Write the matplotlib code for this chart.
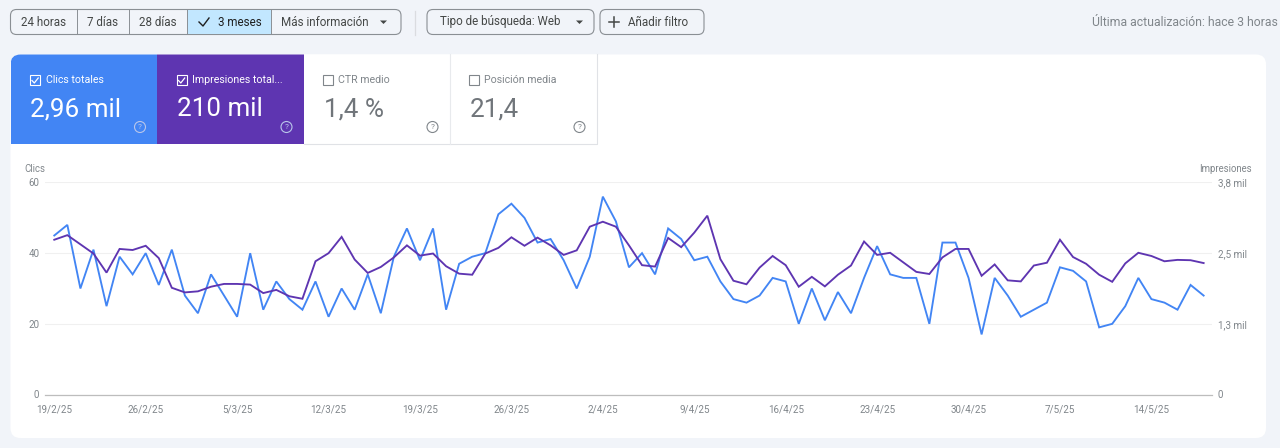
import matplotlib
matplotlib.use("Agg")
import matplotlib.pyplot as plt
from matplotlib.patches import FancyBboxPatch, Rectangle, Circle, Polygon

plt.rcParams['font.family'] = ['Roboto', 'DejaVu Sans']

clicks = [45, 48, 30, 41, 25, 39, 34, 40, 31, 41, 28, 23, 34, 28, 22, 40, 24, 32, 27, 24, 32, 22,
          30, 24, 34, 23, 39, 47, 38, 47, 24, 37, 39, 40, 51, 54, 50, 43, 44, 38, 30, 39, 56, 49, 36, 40,
          34, 47, 44, 38, 39, 32, 27, 26, 28, 33, 32, 20, 30, 21, 29, 23, 33, 42, 34, 33, 33, 20, 43, 43,
          33, 17, 33, 28, 22, 24, 26, 36, 35, 32, 19, 20, 25, 33, 27, 26, 24, 31, 28]
impressions = [2774, 2856, 2692, 2527, 2185, 2609, 2590, 2666, 2445, 1913, 1830, 1849, 1932, 1982, 1982,
               1970, 1818, 1875, 1761, 1716, 2388, 2533,
               2825, 2419, 2179, 2286, 2457, 2673, 2489, 2527, 2299, 2166, 2147, 2527, 2628, 2818, 2666,
               2812, 2673, 2502, 2584, 3008, 3097, 3008, 2673, 2318,
               2293, 2806, 2641, 2901, 3205, 2426, 2039, 1976, 2274, 2483, 2318, 1932, 2109, 1938, 2147,
               2312, 2742, 2502, 2540, 2369, 2198, 2160, 2457, 2609,
               2609, 2128, 2331, 2046, 2027, 2312, 2362, 2774, 2464, 2343, 2147, 2020, 2350, 2540, 2483,
               2388, 2413, 2407, 2356]
days = list(range(len(clicks)))
date_ticks = [0, 7, 14, 21, 28, 35, 42, 49, 56, 63, 70, 77, 84]
date_labels = ['19/2/25', '26/2/25', '5/3/25', '12/3/25', '19/3/25', '26/3/25', '2/4/25',
               '9/4/25', '16/4/25', '23/4/25', '30/4/25', '7/5/25', '14/5/25']
click_ticks = [0, 20, 40, 60]
click_labels = ['0', '20', '40', '60']
imp_ticks = [0, 1267, 2533, 3800]
imp_labels = ['0', '1,3 mil', '2,5 mil', '3,8 mil']

W, H = 1280, 448
BG = '#f1f4f9'
BLUE = '#4285f4'
PURPLE = '#5e35b1'
TXT = '#444746'
GREY = '#80868b'
LINE = '#8a8f94'
BSIZE = 8.4

fig = plt.figure(figsize=(12.8, 4.48), dpi=100, facecolor=BG)

ui = fig.add_axes([0, 0, 1, 1], zorder=0)
ui.set_xlim(0, W)
ui.set_ylim(H, 0)
ui.axis('off')


def rbox(x0, y0, x1, y1, r, fc='none', ec='none', lw=1.0, z=1):
    p = FancyBboxPatch((x0 + r, y0 + r), x1 - x0 - 2 * r, y1 - y0 - 2 * r,
                       boxstyle=f'round,pad={r},rounding_size={r}', fc=fc, ec=ec, lw=lw, zorder=z)
    ui.add_patch(p)
    return p


def t(x, y, s, size=8, color=TXT, ha='left', weight='normal', z=5):
    ui.text(x, y, s, fontsize=size, color=color, ha=ha, va='center', fontweight=weight, zorder=z)


# card
card = rbox(10.5, 54.5, 1266, 438, 10, fc='white', z=1)

# filter buttons
rbox(10.5, 9.5, 401, 34.5, 6, fc=BG, ec=LINE, lw=0.8, z=2)
ui.add_patch(Rectangle((187, 10), 83.5, 24, fc='#c2e7ff', ec='none', zorder=2.5))
for dx in [77, 128.5, 187, 270.5]:
    ui.plot([dx, dx], [9.5, 34.5], color=LINE, lw=0.7, zorder=3)
t(44, 22, '24 horas', BSIZE, ha='center')
t(103, 22, '7 días', BSIZE, ha='center')
t(158, 22, '28 días', BSIZE, ha='center')
ui.plot([199, 203, 209], [22, 26, 18], color='#1f1f1f', lw=1.0, zorder=5)
t(239.5, 22, '3 meses', BSIZE, ha='center', color='#1f1f1f')
t(281, 22, 'Más información', BSIZE)
ui.add_patch(Polygon([[380, 20.5], [387, 20.5], [383.5, 24]], fc=TXT, ec='none', zorder=5))
ui.plot([415, 415], [11, 35], color='#dadce0', lw=0.9, zorder=3)
rbox(427, 9.5, 594, 34.5, 6, fc=BG, ec=LINE, lw=0.8, z=2)
t(440, 22, 'Tipo de búsqueda: Web', BSIZE)
ui.add_patch(Polygon([[576, 20.5], [583, 20.5], [579.5, 24]], fc=TXT, ec='none', zorder=5))
rbox(600, 9.5, 704, 34.5, 6, fc=BG, ec=LINE, lw=0.8, z=2)
ui.plot([609, 619], [22, 22], color=TXT, lw=1.1, zorder=5)
ui.plot([614, 614], [17, 27], color=TXT, lw=1.1, zorder=5)
t(628, 22, 'Añadir filtro', BSIZE)
t(1278, 22, 'Última actualización: hace 3 horas', 8.8, color=GREY, ha='right')

# metric tabs
tabs = [(10.5, 157, BLUE, 'Clics totales', '2,96 mil', True),
        (157, 303.5, PURPLE, 'Impresiones total...', '210 mil', True),
        (303.5, 449.5, 'white', 'CTR medio', '1,4 %', False),
        (449.5, 596.5, 'white', 'Posición media', '21,4', False)]
for x0, x1, fc, label, val, on in tabs:
    r = Rectangle((x0, 54.5), x1 - x0, 89.5, fc=fc, ec='none', zorder=2)
    ui.add_patch(r)
    r.set_clip_path(card)
    head = 'white' if on else GREY
    big = 'white' if on else '#70757a'
    hlp = '#b9c6ea' if on else GREY
    bx = x0 + 19.5
    ui.add_patch(Rectangle((bx, 75.5), 10, 10, fc='none', ec=head, lw=0.8, zorder=5))
    if on:
        ui.plot([bx + 2, bx + 4.3, bx + 8.2], [80.5, 83, 78], color='white', lw=0.9, zorder=6)
    t(x0 + 35, 80, label, 7.7, color=head)
    t(x0 + 20, 109.5, val, 18.7, color=big)
    hx = x1 - 17
    ui.add_patch(Circle((hx, 127), 5.5, fc='none', ec=hlp, lw=0.8, zorder=5))
    t(hx, 127, '?', 6, color=hlp, ha='center')
ui.plot([303.5, 596.5, 596.5], [144, 144, 54.5], color='#e0e2e6', lw=0.8, zorder=3)
ui.plot([449.5, 449.5], [54.5, 144], color='#e8eaed', lw=0.8, zorder=3)

# axis captions
t(24, 169, 'Clics', 6.9, color=GREY)
t(1252, 169, 'Impresiones', 6.9, color=GREY, ha='right')

# chart
ax_l, ax_r, ax_t, ax_b = 45, 1212, 182.5, 394.5
ax = fig.add_axes([ax_l / W, 1 - ax_b / H, (ax_r - ax_l) / W, (ax_b - ax_t) / H], zorder=2)
ax.patch.set_alpha(0)
ax.plot(days, clicks, color=BLUE, lw=1.35, solid_joinstyle='miter', clip_on=False, zorder=3)
ax.set_xlim(-0.71, 88.64)
ax.set_ylim(0, 60)
ax.set_yticks(click_ticks, click_labels)
ax.set_xticks(date_ticks, date_labels)
ax.grid(axis='y', color='#f0f0f0', lw=0.8)
ax.set_axisbelow(True)
ax.tick_params(axis='both', length=0, labelsize=7.1, labelcolor=GREY)
ax.tick_params(axis='y', pad=4)
ax.tick_params(axis='x', pad=7)
for s in ax.spines.values():
    s.set_visible(False)
ax.spines['bottom'].set_visible(True)
ax.spines['bottom'].set_color('#bdbdbd')
ax.spines['bottom'].set_linewidth(0.9)

ax2 = ax.twinx()
ax2.patch.set_alpha(0)
ax2.plot(days, impressions, color=PURPLE, lw=1.35, solid_joinstyle='miter', clip_on=False, zorder=4)
ax2.set_ylim(0, 3800)
ax2.set_yticks(imp_ticks, imp_labels)
ax2.tick_params(axis='y', length=0, labelsize=7.1, labelcolor=GREY, pad=4)
for s in ax2.spines.values():
    s.set_visible(False)

fig.savefig('out.png', dpi=100, facecolor=BG)
